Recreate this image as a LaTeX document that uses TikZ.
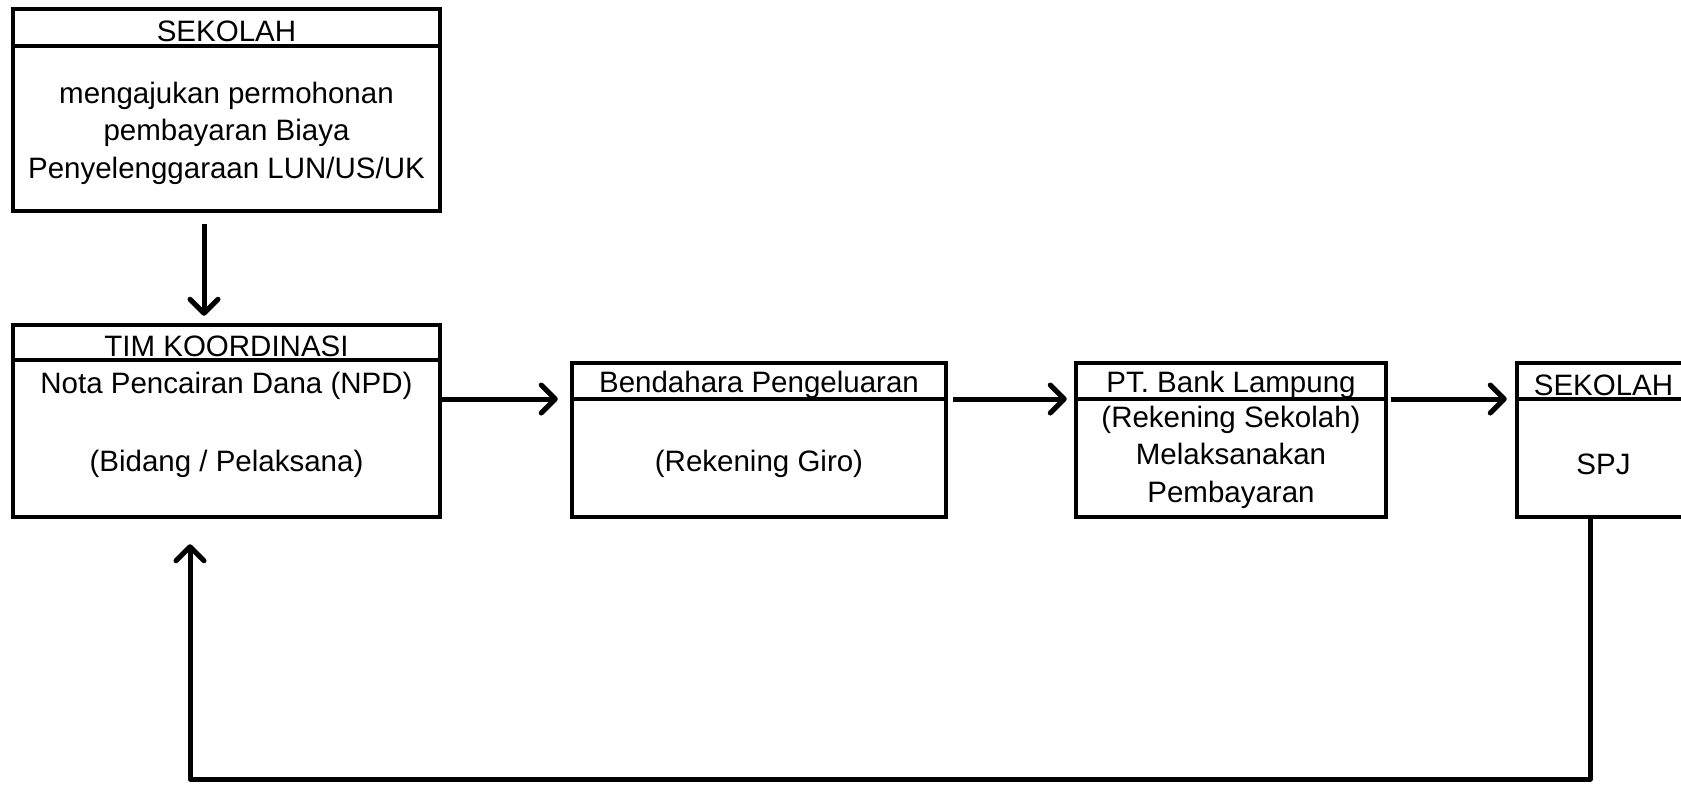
\documentclass[tikz,border=0pt]{standalone}
\usepackage{fontspec}
\setmainfont{Liberation Sans}
\usetikzlibrary{arrows.meta,calc}
\begin{document}
\begin{tikzpicture}[x=1pt,y=-1pt,
  box/.style={draw,line width=4.5pt,inner sep=0pt},
  divider/.style={line width=3.5pt},
  txt/.style={font=\fontsize{29.5}{37.5}\selectfont,align=center,inner sep=0pt},
  arr/.style={line width=5pt,line join=round,-{Straight Barb[length=14pt,width=28pt,line width=5pt,line cap=round,line join=round]}}]
\useasboundingbox (0,0) rectangle (1681,785);
\clip (0,0) rectangle (1681,785);
% boxes
\node[box,minimum width=427pt,minimum height=202pt] (top) at (226.5,110) {};
\node[box,minimum width=427pt,minimum height=192pt] (tim) at (226.5,421) {};
\node[box,minimum width=374pt,minimum height=154pt] (bend) at (759,440) {};
\node[box,minimum width=310pt,minimum height=154pt] (bank) at (1231,440) {};
\node[box,minimum width=173pt,minimum height=154pt] (sek) at (1603.5,440) {};
% dividers
\draw[divider] ([yshift=-39pt]top.north west) -- ([yshift=-39pt]top.north east);
\draw[divider] ([yshift=-37pt]tim.north west) -- ([yshift=-37pt]tim.north east);
\draw[divider] ([yshift=-38pt]bend.north west) -- ([yshift=-38pt]bend.north east);
\draw[divider] ([yshift=-38pt]bank.north west) -- ([yshift=-38pt]bank.north east);
\draw[divider] ([yshift=-38pt]sek.north west) -- ([yshift=-38pt]sek.north east);
% texts
\node[txt] (t1h) at (226.5,31) {SEKOLAH};
\node[txt] (t1b) at (226.5,133) {mengajukan permohonan\\pembayaran Biaya\\Penyelenggaraan LUN/US/UK};
\node[txt] (t2h) at (226.5,346) {TIM KOORDINASI};
\node[txt] (t2a) at (226.5,386) {Nota Pencairan Dana (NPD)};
\node[txt] (t2b) at (226.5,464) {(Bidang / Pelaksana)};
\node[txt] (t3h) at (759,385) {Bendahara Pengeluaran};
\node[txt] (t3b) at (759,464) {(Rekening Giro)};
\node[txt] (t4h) at (1231,385) {PT. Bank Lampung};
\node[txt] (t4b) at (1231,457) {(Rekening Sekolah)\\Melaksanakan\\Pembayaran};
\node[txt] (t5h) at (1603.5,385) {SEKOLAH};
\node[txt] (t5b) at (1603.5,464) {SPJ};
% connectors
\draw[arr] ([xshift=-22.5pt,yshift=-11pt]top.south) -- ([xshift=-22.5pt,yshift=7pt]tim.north);
\draw[arr] ([yshift=22pt]tim.east) -- ([xshift=-12pt,yshift=41pt]bend.west);
\draw[arr] ([xshift=5pt,yshift=41pt]bend.east) -- ([xshift=-7pt,yshift=41pt]bank.west);
\draw[arr] ([xshift=3pt,yshift=41pt]bank.east) -- ([xshift=-8pt,yshift=41pt]sek.west);
\coordinate (c1) at (1590,779);
\coordinate (c2) at (190,779);
\draw[arr] ([xshift=-13.5pt]sek.south) -- (c1) -- (c2) -- ([xshift=-36.5pt,yshift=-25pt]tim.south);
\end{tikzpicture}
\end{document}
